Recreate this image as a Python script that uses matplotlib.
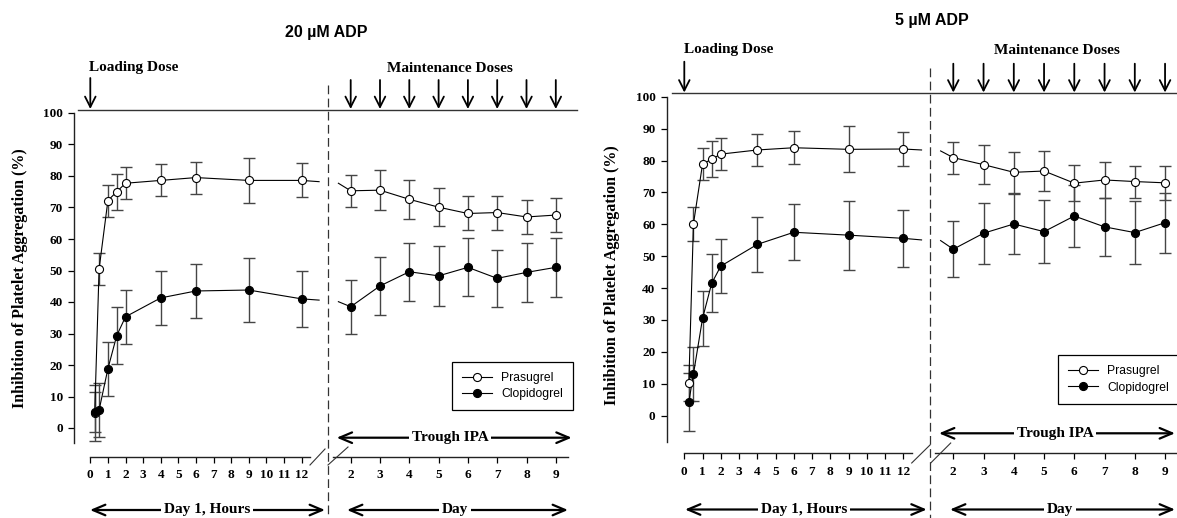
import matplotlib
matplotlib.use('Agg')
import matplotlib.pyplot as plt
from matplotlib.lines import Line2D

W, H = 1177, 518

# --- data ---
hours = [0.25, 0.5, 1, 1.5, 2, 4, 6, 9, 12]
days = [2, 3, 4, 5, 6, 7, 8, 9]
hour_ticks = list(range(0, 13))
day_ticks = list(range(2, 10))
y_ticks = list(range(0, 101, 10))
stub_hour = 13.0   # where the day-1 line runs into the axis break
stub_day = 1.58    # where the day line comes out of the break

# 20 uM ADP
pra20_h = [4.8, 50.5, 72.2, 75.0, 77.7, 78.6, 79.5, 78.6, 78.6]
pra20_h_err = [9.0, 5.1, 5.1, 5.7, 5.1, 5.1, 5.1, 7.1, 5.4]
clo20_h = [5.0, 5.7, 18.8, 29.3, 35.3, 41.3, 43.5, 43.8, 41.0]
clo20_h_err = [6.3, 8.6, 8.5, 9.0, 8.6, 8.6, 8.5, 10.2, 8.8]
pra20_d = [75.3, 75.5, 72.6, 70.1, 68.1, 68.4, 67.0, 67.6]
pra20_d_err = [5.1, 6.3, 6.1, 6.0, 5.4, 5.4, 5.4, 5.5]
clo20_d = [38.5, 45.1, 49.6, 48.3, 51.0, 47.5, 49.4, 51.0]
clo20_d_err = [8.6, 9.3, 9.2, 9.6, 9.2, 9.1, 9.3, 9.4]
pra20_stub = [78.2, 77.7]
clo20_stub = [40.6, 40.1]

# 5 uM ADP
pra5_h = [10.3, 60.1, 78.9, 80.4, 82.0, 83.3, 84.0, 83.5, 83.6]
pra5_h_err = [5.6, 5.2, 5.0, 5.7, 5.1, 5.0, 5.1, 7.2, 5.4]
clo5_h = [4.4, 13.0, 30.5, 41.5, 46.9, 53.7, 57.5, 56.6, 55.6]
clo5_h_err = [9.1, 8.5, 8.7, 9.1, 8.5, 8.6, 8.8, 10.8, 9.0]
pra5_d = [80.9, 78.7, 76.3, 76.7, 72.9, 73.9, 73.4, 73.0]
pra5_d_err = [5.0, 6.2, 6.4, 6.2, 5.7, 5.5, 5.0, 5.4]
clo5_d = [52.2, 57.2, 60.1, 57.7, 62.6, 59.2, 57.4, 60.5]
clo5_d_err = [8.7, 9.5, 9.4, 9.9, 9.6, 9.2, 9.8, 9.4]
pra5_stub = [83.3, 83.0]
clo5_stub = [55.1, 54.9]

SERIF = 'Liberation Serif'
SANS = 'Liberation Sans'
ERR_COL = '#454545'

# pixel layout of each panel
panels = [
    dict(title='20 µM ADP', title_xy=(326, 33),
         yaxis_x=74, break_x=328, right=577, top=110, xaxis_y=457,
         h0=90.3, h_px=17.6, d2=350.7, d_px=29.3, y0=428, y_px=3.15,
         yspine_min=-4.8, hline_end=12.5, dline=(1.4, 9.41),
         top_line=(78, 577), dose_y=(78, 109), dose_text_y=68,
         load_text_x=134, maint_text_x=450, dash_top=85,
         breaks=[(310, 465, 325, 449), (328, 465, 348, 447)],
         trough=(437.7, 336.7, 571.7, 450), day1=(510, 90, 325, 207),
         day=(510, 347, 568, 455), ylabel=(20, 278),
         legend=(452, 361.7),
         pra=(pra20_h, pra20_h_err, pra20_d, pra20_d_err, pra20_stub),
         clo=(clo20_h, clo20_h_err, clo20_d, clo20_d_err, clo20_stub)),
    dict(title='5 µM ADP', title_xy=(932, 20),
         yaxis_x=666.7, break_x=930, right=1177, top=93.3, xaxis_y=453.3,
         h0=684.3, h_px=18.25, d2=953.3, d_px=30.25, y0=415.7, y_px=3.19,
         yspine_min=-8.2, hline_end=12.46, dline=(1.4, 9.5),
         top_line=(671.7, 1177), dose_y=(61.7, 92.5), dose_text_y=50,
         load_text_x=729, maint_text_x=1057, dash_top=68,
         breaks=[(911.7, 463, 930, 445), (930.7, 463, 950.7, 443)],
         trough=(433.3, 939, 1175, 1055), day1=(509.5, 685, 926.7, 804),
         day=(509.5, 950, 1175, 1060), ylabel=(611.7, 275),
         legend=(1058, 355),
         pra=(pra5_h, pra5_h_err, pra5_d, pra5_d_err, pra5_stub),
         clo=(clo5_h, clo5_h_err, clo5_d, clo5_d_err, clo5_stub)),
]


def data_axes(fig, left, right, top, bottom, xref_px, xref_val, x_px, y0, y_px):
    ax = fig.add_axes([left / W, 1 - bottom / H, (right - left) / W, (bottom - top) / H])
    ax.set_xlim(xref_val + (left - xref_px) / x_px, xref_val + (right - xref_px) / x_px)
    ax.set_ylim((y0 - bottom) / y_px, (y0 - top) / y_px)
    ax.patch.set_visible(False)
    for s in ['top', 'right', 'left', 'bottom']:
        ax.spines[s].set_visible(False)
    ax.tick_params(axis='both', which='both', length=0, labelleft=False, labelbottom=False)
    return ax


def draw_series(ax, x, y, err, filled, stub_x, stub_y, stub_first):
    ax.errorbar(x, y, yerr=err, fmt='none', ecolor=ERR_COL, elinewidth=1.0,
                capsize=4.3, capthick=1.0, zorder=2)
    if stub_first:
        lx, ly = [stub_x] + list(x), [stub_y] + list(y)
    else:
        lx, ly = list(x) + [stub_x], list(y) + [stub_y]
    ax.plot(lx, ly, color='black', lw=0.8, zorder=3)
    ax.plot(x, y, 'o', ms=5.8, mec='black', mew=0.8,
            mfc='black' if filled else 'white', zorder=5 if filled else 4)


def tick_font(ax):
    for lab in ax.get_xticklabels() + ax.get_yticklabels():
        lab.set_fontfamily(SERIF)
        lab.set_fontweight('bold')
        lab.set_fontsize(9.5)


fig = plt.figure(figsize=(W / 100, H / 100), dpi=100)

for p in panels:
    # day-1 (hours) segment
    axh = data_axes(fig, p['yaxis_x'], p['break_x'] - 3, p['top'], p['xaxis_y'],
                    p['h0'], 0, p['h_px'], p['y0'], p['y_px'])
    axh.spines['left'].set_visible(True)
    axh.spines['left'].set_bounds(p['yspine_min'], 100)
    axh.spines['bottom'].set_visible(True)
    axh.spines['bottom'].set_bounds(0, p['hline_end'])
    for s in ['left', 'bottom']:
        axh.spines[s].set_linewidth(1.0)
        axh.spines[s].set_color('#222222')
    axh.set_xticks(hour_ticks)
    axh.set_xticklabels([str(t) for t in hour_ticks])
    axh.set_yticks(y_ticks)
    axh.set_yticklabels([str(t) for t in y_ticks])
    axh.tick_params(axis='x', length=4, width=0.9, pad=5, labelbottom=True, direction='out')
    axh.tick_params(axis='y', length=4.5, width=0.9, pad=3.5, labelleft=True, direction='out')
    tick_font(axh)

    # day 2..9 segment
    axd = data_axes(fig, p['break_x'], p['right'], p['top'], p['xaxis_y'],
                    p['d2'], 2, p['d_px'], p['y0'], p['y_px'])
    axd.spines['bottom'].set_visible(True)
    axd.spines['bottom'].set_bounds(*p['dline'])
    axd.spines['bottom'].set_linewidth(1.0)
    axd.spines['bottom'].set_color('#222222')
    axd.set_xticks(day_ticks)
    axd.set_xticklabels([str(t) for t in day_ticks])
    axd.tick_params(axis='x', length=4, width=0.9, pad=5, labelbottom=True, direction='out')
    tick_font(axd)

    ph, phe, pd_, pde, pst = p['pra']
    ch, che, cd, cde, cst = p['clo']
    draw_series(axh, hours, ph, phe, False, stub_hour, pst[0], False)
    draw_series(axh, hours, ch, che, True, stub_hour, cst[0], False)
    draw_series(axd, days, pd_, pde, False, stub_day, pst[1], True)
    draw_series(axd, days, cd, cde, True, stub_day, cst[1], True)

    handles = [Line2D([], [], color='black', lw=0.8, marker='o', ms=5.8, mec='black',
                      mew=0.8, mfc='white'),
               Line2D([], [], color='black', lw=0.8, marker='o', ms=5.8, mec='black',
                      mew=0.8, mfc='black')]
    lx, ly = p['legend']
    leg = axd.legend(handles, ['Prasugrel', 'Clopidogrel'], loc='upper left',
                     bbox_to_anchor=(lx / W, 1 - ly / H), bbox_transform=fig.transFigure,
                     borderaxespad=0, fancybox=False, edgecolor='black', framealpha=1,
                     prop={'family': SANS, 'size': 8.7}, handlelength=2.5,
                     handletextpad=0.7, borderpad=0.85, labelspacing=0.35)
    leg.get_frame().set_linewidth(0.9)

# overlay in pixel coordinates for the annotation furniture
ov = fig.add_axes([0, 0, 1, 1])
ov.set_xlim(0, W)
ov.set_ylim(H, 0)
ov.axis('off')

for p in panels:
    ov.text(*p['title_xy'], p['title'], ha='center', va='center', family=SANS,
            fontweight='bold', fontsize=11.5)
    ov.plot(p['top_line'], [p['top'], p['top']], color='#333333', lw=1.0)
    ov.plot([p['break_x'], p['break_x']], [p['dash_top'], H], color='#333333', lw=0.9,
            ls=(0, (7, 3.5)))
    for x1, y1, x2, y2 in p['breaks']:
        ov.plot([x1, x2], [y1, y2], color='#333333', lw=0.8)

    # dose arrows
    y1, y2 = p['dose_y']
    arrow_v = dict(arrowstyle='->, head_length=0.75, head_width=0.38', lw=1.3,
                   color='black', shrinkA=0, shrinkB=0)
    ov.annotate('', xy=(p['h0'], y2), xytext=(p['h0'], y1), arrowprops=arrow_v)
    for d in day_ticks:
        xd = p['d2'] + (d - 2) * p['d_px']
        ov.annotate('', xy=(xd, y2), xytext=(xd, y1 + 2), arrowprops=arrow_v)
    ov.text(p['load_text_x'], p['dose_text_y'], 'Loading Dose', ha='center', va='center',
            family=SERIF, fontweight='bold', fontsize=11)
    ov.text(p['maint_text_x'], p['dose_text_y'], 'Maintenance Doses', ha='center',
            va='center', family=SERIF, fontweight='bold', fontsize=11)

    # horizontal double arrows with labels
    arrow_h = dict(arrowstyle='<->, head_length=0.9, head_width=0.38', lw=1.6,
                   color='black', shrinkA=0, shrinkB=0)
    for (yy, xa, xb, xt), txt in [(p['trough'], 'Trough IPA'), (p['day1'], 'Day 1, Hours'),
                                  (p['day'], 'Day')]:
        ov.annotate('', xy=(xb, yy), xytext=(xa, yy), arrowprops=arrow_h)
        ov.text(xt, yy, txt, ha='center', va='center', family=SERIF, fontweight='bold',
                fontsize=11, bbox=dict(facecolor='white', edgecolor='none', pad=2))

    ov.text(*p['ylabel'], 'Inhibition of Platelet Aggregation (%)', rotation=90,
            ha='center', va='center', family=SERIF, fontweight='bold', fontsize=11.5)

fig.savefig('out.png', dpi=100)
